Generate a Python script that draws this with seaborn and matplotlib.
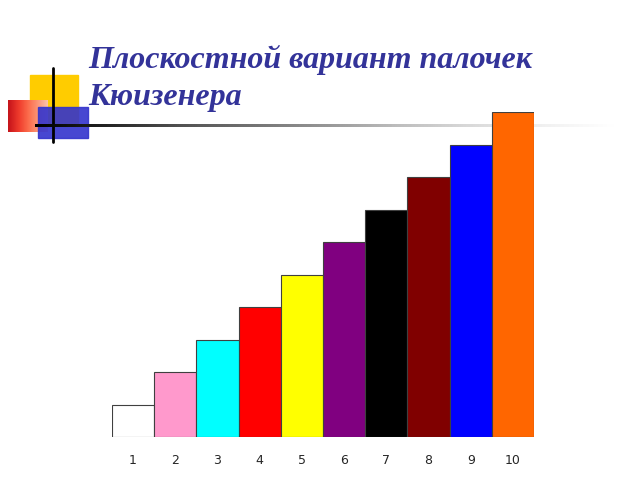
import matplotlib
matplotlib.use('Agg')
import matplotlib.pyplot as plt
import seaborn as sns
import numpy as np
import pandas as pd
from matplotlib.patches import Rectangle

sns.set_theme(style="white")

# Данные: палочки Кюизенера
rods = ['1', '2', '3', '4', '5', '6', '7', '8', '9', '10']
lengths = [1, 2, 3, 4, 5, 6, 7, 8, 9, 10]
colors = ['#FFFFFF', '#FF99CC', '#00FFFF', '#FF0000', '#FFFF00',
          '#800080', '#000000', '#800000', '#0000FF', '#FF6600']
title_lines = ['Плоскостной вариант палочек', 'Кюизенера']

W, H = 640, 480
fig = plt.figure(figsize=(6.4, 4.8), dpi=100)

# Декор слайда
deco = fig.add_axes([0, 0, 1, 1])
deco.axis('off')
deco.add_patch(Rectangle((30, 75), 48, 48, color='#FFCC00', zorder=1))
grad = np.linspace(1, 0.3, 50).reshape(1, -1)
deco.imshow(grad, extent=(8, 48, 132, 100), cmap='Reds', vmin=0, vmax=1.3,
            aspect='auto', zorder=2)
deco.add_patch(Rectangle((38, 107), 50, 31, color='#3333CC', alpha=0.9, zorder=3))
deco.plot([53, 53], [68, 142], color='black', lw=2, zorder=4)
line = np.linspace(0, 1, 200).reshape(1, -1)
deco.imshow(line, extent=(35, 615, 127, 124), cmap='Greys_r', vmin=0, vmax=1.0,
            aspect='auto', zorder=4)
deco.set_xlim(0, W)
deco.set_ylim(H, 0)
for yy, txt in zip([60, 98], title_lines):
    deco.text(88, yy, txt, fontsize=23, fontstyle='italic', fontweight='bold',
              family='Liberation Serif', color='#333399', va='center')

# Диаграмма
ax = fig.add_axes([112 / W, 1 - 437 / H, (534 - 112) / W, (437 - 112) / H])
df = pd.DataFrame({'rod': rods, 'len': lengths})
sns.barplot(data=df, x='rod', y='len', hue='rod', palette=colors, legend=False,
            width=1.0, edgecolor='#404040', linewidth=0.8, saturation=1, ax=ax)
ax.set_xlim(-0.5, 9.5)
ax.set_ylim(0, 10)
ax.set_xlabel('')
ax.set_ylabel('')
ax.set_yticks([])
ax.tick_params(axis='x', length=0, pad=12, labelsize=9)
sns.despine(ax=ax, left=True, bottom=True)
ax.set_facecolor('none')

fig.savefig('out.png', dpi=100)
